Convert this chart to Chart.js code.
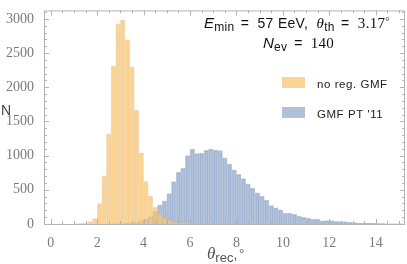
<!DOCTYPE html>
<html>
<head>
<meta charset="utf-8">
<script src="https://cdn.jsdelivr.net/npm/chart.js@4"></script>
<style>
html,body{margin:0;padding:0;background:#fff;}
#wrap{width:407px;height:264px;position:relative;}
</style>
</head>
<body>
<div id="wrap"><canvas id="c" width="407" height="264"></canvas></div>
<script>
// ---- data ----
const binWidth = 0.2;
const orangeLabel = "no reg. GMF";
const blueLabel = "GMF PT '11";
const orangeStart = 1.0;
const orangeCounts = [2, 5, 15, 35, 78, 298, 705, 1320, 2310, 2930, 2985, 2695, 2300, 1668, 1040, 620, 410, 245, 150, 90, 55, 35, 22, 14, 9, 6, 4, 3, 2, 1];
const blueStart = 2.6;
const blueCounts = [2, 4, 7, 12, 20, 32, 50, 75, 110, 190, 280, 340, 446, 619, 759, 815, 1000, 1095, 1029, 1039, 1077, 1100, 1080, 1075, 969, 875, 791, 727, 665, 587, 525, 455, 409, 349, 269, 236, 208, 161, 161, 143, 115, 96, 87, 73, 73, 45, 50, 50, 40, 35, 35, 25, 20, 15, 12, 10, 8, 6, 5, 4, 3, 2, 1];
const xTicks = [0, 2, 4, 6, 8, 10, 12, 14];
const yTicks = [0, 500, 1000, 1500, 2000, 2500, 3000];

function toPoints(start, counts){
  return counts.map((c,i)=>({x: Math.round((start + (i+0.5)*binWidth)*100)/100, y: c}));
}

const tickFont = {family: "'Liberation Serif', serif", size: 14};
const tickColor = '#7a7a7a';

const framePlugin = {
  id: 'frame',
  afterDraw(chart){
    const {ctx, chartArea: a, scales} = chart;
    const xs = scales.x, ys = scales.y;
    ctx.save();
    ctx.strokeStyle = '#b4b4b4';
    ctx.lineWidth = 1;
    ctx.strokeRect(a.left+0.5, a.top+0.5, a.right-a.left-1, a.bottom-a.top);
    ctx.beginPath();
    for (let v = 0; v <= 15.001; v += 0.5){
      const p = Math.round(xs.getPixelForValue(v)) + 0.5;
      const major = Math.abs(v/2 - Math.round(v/2)) < 1e-6;
      const L = major ? 5 : 3;
      ctx.moveTo(p, a.bottom); ctx.lineTo(p, a.bottom - L);
      ctx.moveTo(p, a.top); ctx.lineTo(p, a.top + L);
    }
    for (let v = 0; v <= 3100; v += 100){
      const p = Math.round(ys.getPixelForValue(v)) + 0.5;
      const major = v % 500 === 0;
      const L = major ? 5 : 3;
      ctx.moveTo(a.left, p); ctx.lineTo(a.left + L, p);
      ctx.moveTo(a.right, p); ctx.lineTo(a.right - L, p);
    }
    ctx.stroke();

    function runs(list, x, y, align, ls){
      ctx.letterSpacing = (ls||0) + 'px';
      let w = 0;
      list.forEach(r=>{ ctx.font = r.font; w += ctx.measureText(r.t).width + (r.gap||0); });
      let cx = align === 'right' ? x - w : x;
      list.forEach(r=>{
        ctx.font = r.font;
        ctx.fillStyle = r.color || '#111';
        ctx.fillText(r.t, cx, y + (r.dy||0));
        cx += ctx.measureText(r.t).width + (r.gap||0);
      });
      ctx.letterSpacing = '0px';
    }
    ctx.textBaseline = 'alphabetic';
    ctx.textAlign = 'left';
    const sans = "'Liberation Sans', sans-serif";
    const serif = "'Liberation Serif', serif";
    runs([
      {t:'E', font:'italic 15px '+sans},
      {t:'min', font:'12px '+sans, dy:3, gap:2},
      {t:' =  57 EeV,  ', font:'14px '+sans},
      {t:'θ', font:'italic 15px '+serif},
      {t:'th', font:'12px '+sans, dy:3, gap:2},
      {t:' =  ', font:'14px '+sans},
      {t:'3.17', font:'15px '+serif},
      {t:'°', font:'11px '+serif, dy:-3}
    ], 390, 28, 'right', 0.3);
    runs([
      {t:'N', font:'italic 15px '+sans},
      {t:'ev', font:'12px '+sans, dy:3, gap:3},
      {t:' =  ', font:'14px '+sans},
      {t:'140', font:'15px '+serif}
    ], 263, 48, 'left', 0.2);

    const leg = [
      {label: orangeLabel, fill: chart.data.datasets[0].backgroundColor, y: 77},
      {label: blueLabel, fill: chart.data.datasets[1].backgroundColor, y: 107}
    ];
    leg.forEach(l=>{
      ctx.fillStyle = l.fill;
      ctx.fillRect(282, l.y, 23, 11);
      ctx.font = '11.5px ' + sans;
      ctx.letterSpacing = '0.55px';
      ctx.fillStyle = '#222';
      ctx.fillText(l.label, 317, l.y + 6.5 + 4);
      ctx.letterSpacing = '0px';
    });

    ctx.fillStyle = '#444';
    ctx.font = '14px ' + sans;
    ctx.fillText('N', 1, 115);
    runs([
      {t:'θ', font:'italic 17px '+serif, color:'#555'},
      {t:'rec', font:'13px '+sans, dy:3, color:'#555'},
      {t:',', font:'14px '+sans, color:'#555', gap:2},
      {t:'°', font:'12px '+serif, dy:-2, color:'#555'}
    ], 207, 259, 'left');
    ctx.restore();
  }
};

new Chart(document.getElementById('c'), {
  type: 'bar',
  data: {
    datasets: [
      {label: orangeLabel, data: toPoints(orangeStart, orangeCounts),
       backgroundColor: 'rgba(249,200,120,0.78)', borderColor: 'rgba(232,180,105,0.45)', borderWidth: 1,
       grouped: false, barPercentage: 1, categoryPercentage: 1},
      {label: blueLabel, data: toPoints(blueStart, blueCounts),
       backgroundColor: 'rgba(112,142,192,0.55)', borderColor: 'rgba(95,120,165,0.35)', borderWidth: 1,
       grouped: false, barPercentage: 1, categoryPercentage: 1}
    ]
  },
  options: {
    responsive: false,
    animation: false,
    devicePixelRatio: 1,
    layout: {padding: {top: 1, right: 2, left: 0, bottom: 0}},
    plugins: {legend: {display: false}, tooltip: {enabled: false}},
    scales: {
      x: {
        type: 'linear', min: -0.29, max: 15.26, offset: false,
        grid: {display: false}, border: {display: false},
        afterBuildTicks(s){ s.ticks = xTicks.map(v=>({value:v})); },
        afterFit(s){ s.height = 40; },
        ticks: {font: tickFont, color: tickColor, padding: 3, maxRotation: 0, autoSkip: false,
                callback: v => String(v)}
      },
      y: {
        min: 0, max: 3125,
        grid: {display: false}, border: {display: false},
        afterBuildTicks(s){ s.ticks = yTicks.map(v=>({value:v})); },
        afterFit(s){ s.width = 44; },
        ticks: {font: tickFont, color: tickColor, padding: 2, callback: v => String(v)}
      }
    }
  },
  plugins: [framePlugin]
});
</script>
</body>
</html>
